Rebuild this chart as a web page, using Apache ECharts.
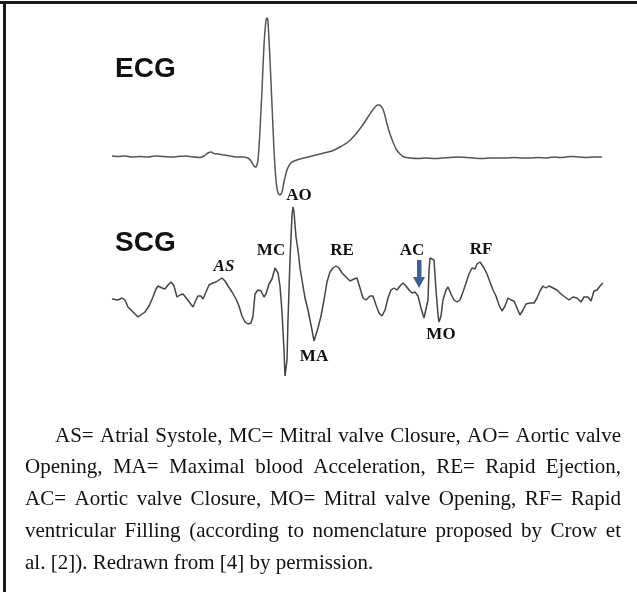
<!DOCTYPE html>
<html lang="en">
<head>
    <meta charset="UTF-8">
    <title>ECG and SCG</title>
    <style>
        html, body { margin: 0; padding: 0; background: #fff; }
    </style>
</head>
<body>
<div id="main" style="width: 637px;height:592px;"></div>

<script type="text/javascript" src="https://cdn.jsdelivr.net/npm/echarts@6/dist/echarts.min.js"></script>
<script>
    // time axis in samples, amplitude in arbitrary units (baseline ~ 0)
    var ecgT = [0, 6, 13, 20, 28, 36, 43, 50, 58, 66, 74, 82, 88, 92, 96, 99, 102, 106, 112, 118, 124, 130, 136, 139, 142, 144, 146, 148, 150, 152, 154, 155, 156, 158, 160, 162, 164, 166, 168, 170, 172, 175, 178, 182, 188, 196, 204, 212, 220, 228, 236, 243, 250, 256, 260, 264, 266, 269, 272, 275, 278, 281, 284, 288, 292, 298, 306, 314, 322, 330, 338, 346, 354, 362, 370, 378, 386, 394, 402, 410, 418, 426, 434, 442, 448, 454, 460, 466, 474, 482, 490];
    var ecgV = [0.01, 0.005, 0.01, 0, 0.005, 0, 0.01, 0.005, 0, 0.005, 0.01, 0, -0.005, 0.01, 0.04, 0.05, 0.035, 0.03, 0.02, 0.01, 0, 0, -0.01, -0.04, -0.09, -0.10, -0.03, 0.27, 0.67, 1.12, 1.37, 1.39, 1.35, 0.97, 0.52, 0.07, -0.23, -0.36, -0.38, -0.35, -0.25, -0.13, -0.07, -0.04, -0.02, 0, 0.02, 0.04, 0.06, 0.10, 0.15, 0.22, 0.31, 0.40, 0.46, 0.51, 0.52, 0.51, 0.45, 0.33, 0.23, 0.15, 0.08, 0.03, 0, -0.01, -0.015, -0.01, -0.015, -0.01, -0.005, 0, -0.005, -0.01, -0.015, -0.01, -0.01, -0.01, -0.005, -0.01, -0.01, -0.005, -0.01, 0, -0.005, 0, 0.005, 0, -0.005, 0, 0];

    var scgT = [0, 6, 10, 13, 16, 21, 26, 30, 33, 37, 41, 44, 46, 50, 53, 56, 59, 62, 65, 68, 71, 75, 78, 81, 84, 86, 89, 91, 94, 97, 101, 104, 107, 110, 113, 116, 120, 124, 127, 130, 133, 136, 139, 141, 143, 146, 149, 152, 154, 157, 160, 163, 164, 166, 168, 170, 172, 173, 174, 175, 176, 178, 180, 181, 182, 184, 186, 188, 190, 193, 196, 198, 200, 202, 204, 206, 209, 212, 215, 218, 221, 224, 227, 230, 234, 238, 242, 245, 248, 251, 254, 258, 261, 264, 267, 270, 273, 276, 279, 282, 285, 288, 291, 294, 297, 300, 303, 306, 309, 312, 314, 316, 317, 318, 320, 322, 324, 326, 327, 329, 331, 334, 336, 339, 342, 345, 348, 351, 354, 357, 360, 363, 365, 368, 370, 372, 375, 378, 381, 384, 387, 390, 393, 396, 399, 402, 405, 408, 411, 414, 418, 422, 425, 428, 431, 434, 437, 441, 445, 449, 453, 457, 461, 465, 469, 472, 476, 479, 482, 485, 488, 491];
    var scgV = [-0.02, -0.03, -0.01, -0.03, -0.10, -0.15, -0.20, -0.17, -0.15, -0.09, 0, 0.08, 0.11, 0.09, 0.08, 0.12, 0.15, 0.11, 0, 0.02, 0.03, -0.02, -0.06, -0.10, -0.03, 0.01, 0.01, -0.02, 0.05, 0.12, 0.14, 0.15, 0.17, 0.19, 0.16, 0.11, 0.05, -0.02, -0.09, -0.19, -0.25, -0.27, -0.26, -0.19, 0.03, 0.07, 0.06, 0, 0.03, 0.13, 0.18, 0.29, 0.30, 0.24, 0.11, -0.15, -0.53, -0.79, -0.77, -0.63, -0.23, 0.37, 0.82, 0.90, 0.85, 0.60, 0.47, 0.29, 0.17, -0.01, -0.13, -0.23, -0.33, -0.44, -0.43, -0.31, -0.19, -0.03, 0.15, 0.25, 0.29, 0.31, 0.29, 0.24, 0.20, 0.16, 0.18, 0.19, 0.09, -0.01, -0.03, 0.01, 0.01, -0.08, -0.16, -0.19, -0.13, -0.01, 0.07, 0.09, 0.07, 0.11, 0.14, 0.11, 0.07, 0.04, 0.05, 0.01, -0.11, -0.21, -0.23, -0.03, 0.27, 0.39, 0.40, 0.37, 0.07, -0.18, -0.25, -0.19, -0.03, 0.07, 0.10, 0.03, -0.03, -0.05, -0.03, 0.05, 0.14, 0.23, 0.29, 0.28, 0.33, 0.35, 0.35, 0.29, 0.23, 0.15, 0.07, 0.01, -0.08, -0.14, -0.09, -0.01, -0.03, -0.04, -0.11, -0.18, -0.13, -0.07, -0.06, -0.06, -0.01, 0.06, 0.11, 0.09, 0.11, 0.09, 0.07, 0.03, 0, -0.03, 0, -0.01, -0.05, 0, 0, -0.04, 0.06, 0.07, 0.11, 0.14];

    var captionLines = [
        'AS= Atrial Systole, MC= Mitral valve Closure, AO= Aortic valve',
        'Opening, MA= Maximal blood Acceleration, RE= Rapid Ejection,',
        'AC= Aortic valve Closure, MO= Mitral valve Opening, RF= Rapid',
        'ventricular Filling (according to nomenclature proposed by Crow et',
        'al. [2]). Redrawn from [4] by permission.'
    ];

    // wave point labels [text, x, y]
    var marks = [
        ['AS', 224, 267], ['MC', 271, 251], ['AO', 299, 196], ['MA', 314, 357],
        ['RE', 342, 251], ['AC', 412, 251], ['MO', 441, 335], ['RF', 481, 250]
    ];

    function pairs(t, v) {
        var out = [];
        for (var i = 0; i < t.length; i++) out.push([t[i], v[i]]);
        return out;
    }

    var myChart = echarts.init(document.getElementById('main'));

    var capFont = '21px "Liberation Serif", "Times New Roman", serif';
    var ctx = document.createElement('canvas').getContext('2d');
    ctx.font = capFont;

    var graphics = [
        {type: 'rect', shape: {x: 0, y: 1, width: 637, height: 3}, style: {fill: '#1a1a1a'}},
        {type: 'rect', shape: {x: 3, y: 1, width: 3, height: 591}, style: {fill: '#1a1a1a'}},
        {type: 'text', x: 115, y: 69, style: {text: 'ECG', font: 'bold 28px "Liberation Sans", Arial, sans-serif', fill: '#111', verticalAlign: 'middle', textVerticalAlign: 'middle'}},
        {type: 'text', x: 115, y: 243, style: {text: 'SCG', font: 'bold 28px "Liberation Sans", Arial, sans-serif', fill: '#111', verticalAlign: 'middle', textVerticalAlign: 'middle'}},
        // AC arrow
        {type: 'rect', shape: {x: 417, y: 260, width: 4.5, height: 18}, style: {fill: '#3d5f9c'}},
        {type: 'polygon', shape: {points: [[413, 277], [425, 277], [419, 288]]}, style: {fill: '#3d5f9c'}}
    ];

    marks.forEach(function (m) {
        graphics.push({
            type: 'text', x: m[1], y: m[2],
            style: {
                text: m[0],
                font: (m[0] === 'AS' ? 'italic ' : '') + 'bold 17px "Liberation Serif", "Times New Roman", serif',
                fill: '#111',
                align: 'center', textAlign: 'center',
                verticalAlign: 'middle', textVerticalAlign: 'middle'
            }
        });
    });

    // justified caption, word by word
    var lineY = [436, 467, 499, 531, 563];
    captionLines.forEach(function (line, li) {
        var words = line.split(' ');
        var x0 = li === 0 ? 55 : 25;
        var x1 = 621;
        var widths = words.map(function (w) { return ctx.measureText(w).width; });
        var total = widths.reduce(function (a, b) { return a + b; }, 0);
        var last = li === captionLines.length - 1;
        var gap = last ? ctx.measureText(' ').width : (x1 - x0 - total) / (words.length - 1);
        var x = x0;
        words.forEach(function (w, i) {
            graphics.push({
                type: 'text', x: x, y: lineY[li],
                style: {text: w, font: capFont, fill: '#111', verticalAlign: 'middle', textVerticalAlign: 'middle'}
            });
            x += widths[i] + gap;
        });
    });

    var option = {
        animation: false,
        backgroundColor: '#fff',
        grid: [
            {left: 112, width: 491, top: 5, height: 200},
            {left: 112, width: 491, top: 197, height: 200}
        ],
        xAxis: [
            {type: 'value', gridIndex: 0, min: 0, max: 491, show: false},
            {type: 'value', gridIndex: 1, min: 0, max: 491, show: false}
        ],
        yAxis: [
            {type: 'value', gridIndex: 0, min: -0.48, max: 1.52, show: false},
            {type: 'value', gridIndex: 1, min: -1, max: 1, show: false}
        ],
        series: [
            {
                name: 'ECG', type: 'line', xAxisIndex: 0, yAxisIndex: 0,
                data: pairs(ecgT, ecgV), showSymbol: false, symbol: 'none', smooth: 0.2,
                lineStyle: {color: '#555', width: 1.5}
            },
            {
                name: 'SCG', type: 'line', xAxisIndex: 1, yAxisIndex: 1,
                data: pairs(scgT, scgV), showSymbol: false, symbol: 'none',
                lineStyle: {color: '#444', width: 1.5}
            }
        ],
        graphic: graphics
    };

    myChart.setOption(option);
</script>
</body>
</html>
